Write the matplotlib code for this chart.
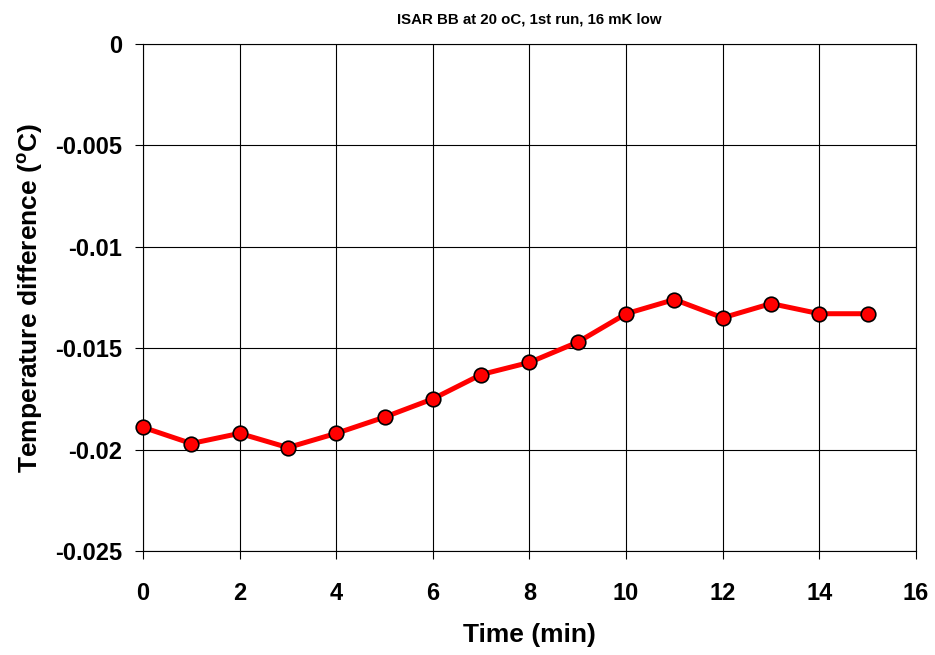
import numpy as np
import matplotlib.pyplot as plt

plt.rcParams['font.family'] = ['Liberation Sans', 'DejaVu Sans']
plt.rcParams['font.weight'] = 'bold'
plt.rcParams['mathtext.fontset'] = 'custom'
plt.rcParams['mathtext.bf'] = 'Liberation Sans:bold'
plt.rcParams['mathtext.rm'] = 'Liberation Sans:bold'

time_min = [0, 1, 2, 3, 4, 5, 6, 7, 8, 9, 10, 11, 12, 13, 14, 15]
temp_diff = [-0.0189, -0.0197, -0.0192, -0.0199, -0.0192, -0.0184, -0.0175, -0.0163,
             -0.0157, -0.0147, -0.0133, -0.0126, -0.0135, -0.0128, -0.0133, -0.0133]

fig = plt.figure(figsize=(9.35, 6.55), dpi=100)
ax = fig.add_axes([0.1529, 0.1588, 0.8268, 0.774])

ax.plot(time_min, temp_diff, color='#ff0000', lw=3.6, marker='o', ms=10.5,
        mfc='#ff0000', mec='black', mew=1.2, zorder=3, clip_on=False)

ax.set_xlim(0, 16)
ax.set_ylim(-0.025, 0)
ax.set_xticks(np.arange(0, 17, 2))
ax.set_yticks([0, -0.005, -0.01, -0.015, -0.02, -0.025])
ax.set_yticklabels(['0', '-0.005', '-0.01', '-0.015', '-0.02', '-0.025'])
ax.grid(True, color='black', lw=0.8)
ax.set_axisbelow(True)
for s in ax.spines.values():
    s.set_linewidth(0.8)
ax.tick_params(direction='out', length=6, width=0.8, labelsize=17)
ax.tick_params(axis='x', pad=16)
ax.tick_params(axis='y', pad=9)
for lab in ax.get_xticklabels() + ax.get_yticklabels():
    lab.set_fontweight('bold')

ax.set_title('ISAR BB at 20 oC, 1st run, 16 mK low', fontsize=10.8,
             fontweight='bold', pad=15)
ax.set_xlabel('Time (min)', fontsize=19, fontweight='bold', labelpad=13)
ax.set_ylabel(r'Temperature difference ($^{\mathbf{o}}$C)', fontsize=19,
              fontweight='bold', labelpad=7)

fig.savefig('out.png', dpi=100)
